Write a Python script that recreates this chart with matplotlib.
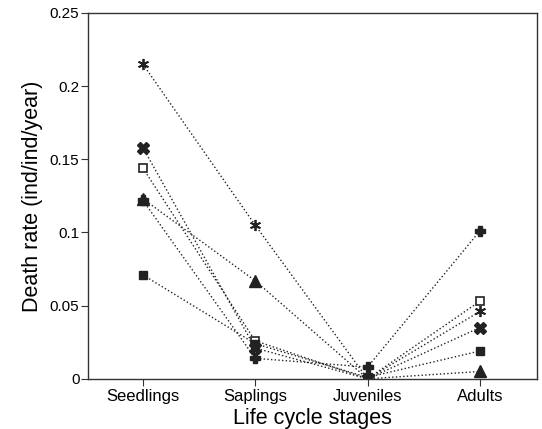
import matplotlib
matplotlib.use('Agg')
import matplotlib.pyplot as plt

plt.rcParams['font.family'] = ['Liberation Sans', 'DejaVu Sans']

# life cycle stages on the x axis
stages = ['Seedlings', 'Saplings', 'Juveniles', 'Adults']

# death rates per species
asterisk_vals = [0.215, 0.105, 0.000, 0.046]
cross_vals = [0.158, 0.021, 0.000, 0.035]
opensq_vals = [0.144, 0.026, 0.000, 0.053]
triangle_vals = [0.123, 0.067, 0.000, 0.005]
filledsq_vals = [0.071, 0.024, 0.001, 0.019]
plus_vals = [0.122, 0.014, 0.008, 0.101]

fig = plt.figure(figsize=(5.42, 4.29), dpi=100)
ax = fig.add_axes([0.162, 0.117, 0.829, 0.853])

x = list(range(len(stages)))
col = '#222222'
ax.plot(x, plus_vals, ':', color=col, lw=1, marker='P', ms=7, mfc=col, mec=col)
ax.plot(x, asterisk_vals, ':', color=col, lw=1, marker=(6, 2, 0), ms=8, mec=col, mew=1.3)
ax.plot(x, cross_vals, ':', color=col, lw=1, marker='X', ms=8, mfc=col, mec=col)
ax.plot(x, opensq_vals, ':', color=col, lw=1, marker='s', ms=6, mfc='white', mec=col, mew=1.2)
ax.plot(x, triangle_vals, ':', color=col, lw=1, marker='^', ms=8, mfc=col, mec=col)
ax.plot(x, filledsq_vals, ':', color=col, lw=1, marker='s', ms=6, mfc=col, mec=col)

ax.set_xlim(-0.49, 3.51)
ax.set_ylim(0, 0.25)
ax.set_xticks(x)
ax.set_xticklabels(stages, fontsize=12)
ax.set_yticks([0, 0.05, 0.1, 0.15, 0.2, 0.25])
ax.set_yticklabels(['0', '0.05', '0.1', '0.15', '0.2', '0.25'], fontsize=11)
ax.tick_params(direction='out', length=5, width=0.8, color='#333333')
ax.tick_params(axis='y', pad=1)
ax.tick_params(axis='x', pad=2)

ax.set_xlabel('Life cycle stages', fontsize=15.5, labelpad=3)
ax.set_ylabel('Death rate (ind/ind/year)', fontsize=15.5, labelpad=5)

for s in ax.spines.values():
    s.set_color('#333333')
    s.set_linewidth(1)

fig.savefig('out.png', dpi=100)
